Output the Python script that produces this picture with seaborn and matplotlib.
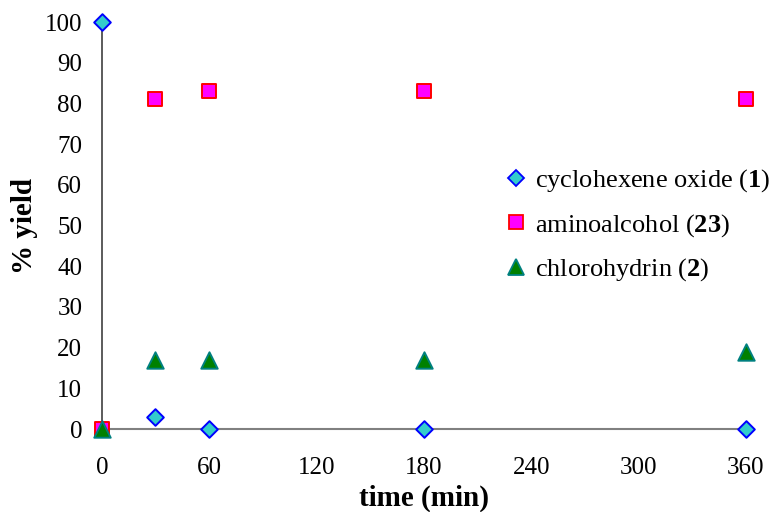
import matplotlib
matplotlib.use("Agg")
import matplotlib.pyplot as plt
import seaborn as sns
import pandas as pd

# reaction time points (min) and % yield of each species
time_min = [0, 30, 60, 180, 360]
epoxide_yield = [100, 3, 0, 0, 0]
aminoalcohol_yield = [0, 81, 83, 83, 81]
chlorohydrin_yield = [0, 17, 17, 17, 19]

series_names = ["cyclohexene oxide (1)", "aminoalcohol (23)", "chlorohydrin (2)"]
legend_labels = [r"cyclohexene oxide ($\mathbf{1}$)",
                 r"aminoalcohol ($\mathbf{23}$)",
                 r"chlorohydrin ($\mathbf{2}$)"]
x_ticks = [0, 60, 120, 180, 240, 300, 360]
y_ticks = [0, 10, 20, 30, 40, 50, 60, 70, 80, 90, 100]

df = pd.DataFrame({
    "time": time_min * 3,
    "yield": epoxide_yield + aminoalcohol_yield + chlorohydrin_yield,
    "species": [s for s in series_names for _ in time_min],
})

sns.set_theme(style="white")
plt.rcParams["font.family"] = ["Liberation Serif", "DejaVu Serif"]
plt.rcParams["mathtext.fontset"] = "custom"
plt.rcParams["mathtext.rm"] = "Liberation Serif"
plt.rcParams["mathtext.bf"] = "Liberation Serif:bold"
plt.rcParams["text.color"] = "black"
plt.rcParams["axes.labelcolor"] = "black"

fig = plt.figure(figsize=(7.77, 5.12), dpi=100)
ax = fig.add_axes([0.131, 0.162, 0.829, 0.795])

styles = {
    series_names[0]: dict(marker="D", s=72, ms=8.5, facecolor="#33CCCC", edgecolor="#0000FF"),
    series_names[1]: dict(marker="s", s=105, ms=9.5, facecolor="#FF00FF", edgecolor="#FF0000"),
    series_names[2]: dict(marker="^", s=140, ms=11, facecolor="#008000", edgecolor="#008080"),
}

# aminoalcohol at the back, then chlorohydrin, epoxide on top
for name in [series_names[1], series_names[2], series_names[0]]:
    st = styles[name]
    sub = df[df["species"] == name]
    sns.scatterplot(data=sub, x="time", y="yield", ax=ax, marker=st["marker"],
                    s=st["s"], color=st["facecolor"], edgecolor=st["edgecolor"],
                    linewidth=1.4, clip_on=False, zorder=5, legend=False)

ax.set_xlim(0, 360)
ax.set_ylim(0, 100)
ax.set_xticks(x_ticks)
ax.set_yticks(y_ticks)
ax.tick_params(axis="both", labelsize=18, labelcolor="black")
ax.tick_params(axis="x", length=4, width=1, color="#808080", direction="out", pad=16)
ax.tick_params(axis="y", length=5, width=1, color="#404040", direction="out", pad=9)

for side in ["top", "right"]:
    ax.spines[side].set_visible(False)
ax.spines["left"].set_color("#404040")
ax.spines["left"].set_linewidth(1.2)
ax.spines["bottom"].set_color("#808080")
ax.spines["bottom"].set_linewidth(1.5)

ax.set_xlabel("time (min)", fontsize=21, fontweight="bold", labelpad=4, color="black")
ax.set_ylabel("% yield", fontsize=21, fontweight="bold", labelpad=5, color="black")

handles = []
for name in series_names:
    st = styles[name]
    h = plt.Line2D([], [], linestyle="none", marker=st["marker"],
                   markerfacecolor=st["facecolor"], markeredgecolor=st["edgecolor"],
                   markeredgewidth=1.3, markersize=st["ms"])
    handles.append(h)
leg = ax.legend(handles, legend_labels, loc="upper left", bbox_to_anchor=(0.627, 0.643),
                frameon=False, fontsize=19, handletextpad=0.3, labelspacing=0.67,
                handlelength=0.8, borderaxespad=0, borderpad=0)
for t in leg.get_texts():
    t.set_color("black")

fig.savefig("out.png", dpi=100)
